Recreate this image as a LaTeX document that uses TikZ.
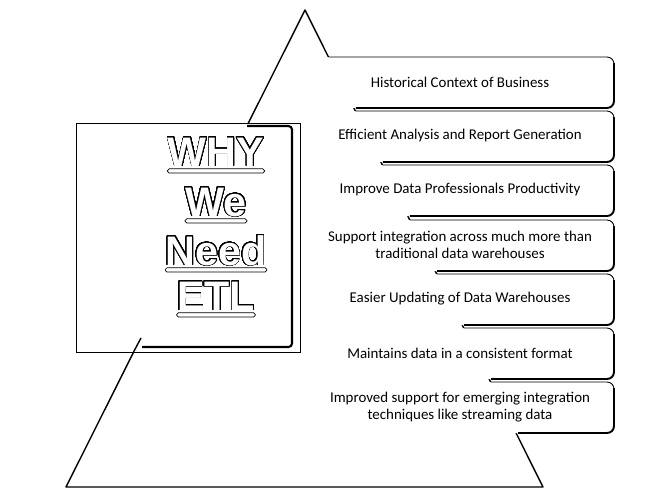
\documentclass[tikz,border=0pt]{standalone}
\usepackage{fontspec}
\setmainfont{Carlito}
\newfontfamily\whyfont{Liberation Sans}
\usepackage[copies]{contour}
\contourlength{0.4pt}
\contournumber{48}

\begin{document}
\begin{tikzpicture}[x=0.02cm, y=-0.02cm, font=\fontsize{8.5}{9.6}\selectfont]
\tikzstyle{reason}=[align=center, inner sep=0pt]
\tikzstyle{word}=[anchor=base, inner sep=0pt, text=white, font=\whyfont\bfseries\fontsize{23.5}{24}\selectfont]
\tikzstyle{ubar}=[draw, fill=white, line width=0.4pt, rounded corners=1pt]
\useasboundingbox (0,0) rectangle (672,498);

\coordinate (apex) at (305,10);
\coordinate (left) at (66,487);
\coordinate (right) at (543,487);
\draw[line width=0.8pt, line join=round] (left) -- (apex) -- (right) -- cycle;

\foreach \ytop/\txt [count=\i] in {57/Historical Context of Business, 111/Efficient Analysis and Report Generation, 165/Improve Data Professionals Productivity, 220/{Support integration across much more than\\traditional data warehouses}, 274/Easier Updating of Data Warehouses, 328/Maintains data in a consistent format, 382/{Improved support for emerging integration\\techniques like streaming data}}{
  \pgfmathsetmacro{\ybot}{\ytop+51}
  \pgfmathsetmacro{\xt}{305+(\ytop-10)*0.49895}
  \pgfmathsetmacro{\xb}{305+(\ybot-10)*0.49895}
  \fill[white] (\xt-3,\ytop) -- (614,\ytop) -- (614,\ybot) -- (\xb-3,\ybot) -- cycle;
  \draw[line width=0.5pt, rounded corners=4pt] (\xt,\ytop) -- (614,\ytop) -- (614,\ybot-20);
  \draw[line width=1.1pt, rounded corners=4pt] (614,\ytop+6) -- (614,\ybot) -- (\xb+2,\ybot);
  \node[reason] (r\i) at (460,\ytop+25) {\txt};
}

\draw[fill=white, line width=0.5pt] (76,123) rectangle (300,352);
\draw[line width=1.2pt, rounded corners=2pt] (247,126) -- (292,126) -- (292,347) -- (142,347);
\draw[line width=0.8pt] (141,338) -- (133.5,352);

\node[word] (why) at (216,166) {\contour{black}{WHY}};
\node[word] (we) at (216,216) {\contour{black}{We}};
\node[word] (need) at (216,265) {\contour{black}{Need}};
\node[word] (etl) at (216,310) {\contour{black}{ETL}};
\foreach \w in {why,we,need,etl}
  \draw[ubar] ([yshift=-1.6pt]\w.base west) rectangle ([yshift=-4pt]\w.base east);
\end{tikzpicture}
\end{document}
